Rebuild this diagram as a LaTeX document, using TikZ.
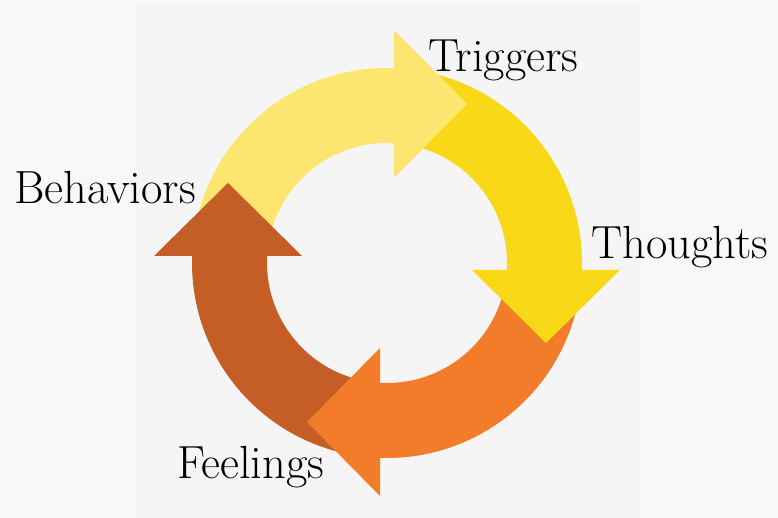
\documentclass[tikz,border=0pt]{standalone}
\definecolor{bgouter}{HTML}{F8F8F8}
\definecolor{bgpanel}{HTML}{F5F5F5}
\definecolor{triggercol}{HTML}{FCE670}
\definecolor{thoughtcol}{HTML}{F9D818}
\definecolor{feelcol}{HTML}{F37C2B}
\definecolor{behavcol}{HTML}{C55D26}
\begin{document}
\begin{tikzpicture}[x=1bp,y=1bp,
  cyclelabel/.style={font=\fontsize{46.5bp}{54bp}\selectfont, inner sep=0pt, anchor=base west, text=black},
  ring/.style={shift={(387,255)}}]
% page background and the slightly darker panel
\fill[bgouter] (0,0) rectangle (778,518);
\useasboundingbox (0,0) rectangle (778,518);
\fill[bgpanel] (135,0) rectangle (640,513);

% ring segment between two angles (clockwise), inner radius 120, outer 195
\newcommand\ringband[3]{%
  \begin{scope}[ring]
    \fill[#1] (#2:195) arc[start angle=#2, end angle=#3, radius=195]
      -- (#3:120) arc[start angle=#3, end angle=#2, radius=120] -- cycle;
  \end{scope}}
% arrow head, built for the top position and rotated about the centre
\newcommand\ringhead[2]{%
  \begin{scope}[ring, rotate=#2]
    \fill[#1] (7,85) -- (7,233) -- (80,159) -- cycle;
  \end{scope}}

% bodies of the four arrows
\ringband{triggercol}{168}{86.5}
\ringband{thoughtcol}{78}{-3.5}
\ringband{feelcol}{-12}{-93.5}
\ringband{behavcol}{-102}{-183.5}

% heads on top of the following body
\ringhead{triggercol}{0}
\ringhead{thoughtcol}{-90}
\ringhead{feelcol}{-180}
\ringhead{behavcol}{90}

% labels
\node[cyclelabel] (triggers)  at (428,446) {Triggers};
\node[cyclelabel] (thoughts)  at (591,259) {Thoughts};
\node[cyclelabel] (feelings)  at (177,39)  {Feelings};
\node[cyclelabel] (behaviors) at (14,314)  {Behaviors};
\end{tikzpicture}
\end{document}
